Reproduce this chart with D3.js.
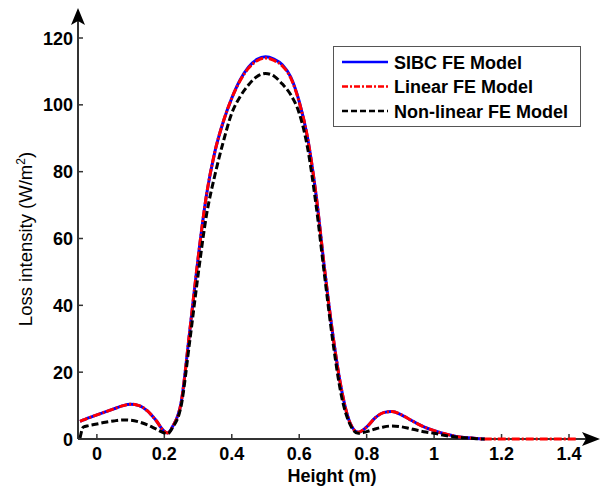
<!DOCTYPE html>
<html>
<head>
<meta charset="utf-8">
<script src="https://cdn.jsdelivr.net/npm/d3@7"></script>
<style>
  body { margin: 0; background: #fff; }
  text { font-family: "Liberation Sans", Arial, sans-serif; }
</style>
</head>
<body>
<svg id="chart" width="602" height="488"></svg>
<script>
const heights = [-0.05, -0.04, -0.025, 0, 0.025, 0.05, 0.075, 0.1, 0.125, 0.15, 0.175, 0.2, 0.21, 0.225,
  0.25, 0.275, 0.3, 0.325, 0.35, 0.375, 0.4, 0.425, 0.45, 0.475, 0.5, 0.525, 0.55, 0.575, 0.6,
  0.625, 0.65, 0.675, 0.7, 0.725, 0.75, 0.775, 0.8, 0.825, 0.85, 0.875, 0.9, 0.925, 0.95, 0.975,
  1.0, 1.025, 1.05, 1.075, 1.1, 1.125, 1.15, 1.25, 1.35, 1.42];

// Loss intensity (W/m^2)
const sibc = [5.3, 5.7, 6.3, 7.2, 8.1, 9.0, 9.9, 10.4, 10.0, 8.4, 5.6, 2.3, 1.8, 3.8,
  11, 32, 54, 73, 86, 95, 102, 107.5, 111.3, 113.6, 114.4, 113.7, 112, 108.3, 101,
  90, 73, 51, 31, 15, 5, 2, 3.6, 6.3, 7.9, 8.2, 7.4, 6.0, 4.6, 3.4,
  2.5, 1.7, 1.1, 0.6, 0.35, 0.15, 0, null, null, null];

const linear = [5.3, 5.7, 6.3, 7.2, 8.1, 9.0, 9.9, 10.4, 10.0, 8.4, 5.6, 2.3, 1.8, 3.8,
  11, 32, 54, 73, 86, 95, 102, 107.3, 111, 113.2, 114, 113.3, 111.6, 108, 100.8,
  90, 73, 51, 31, 15, 5, 2, 3.6, 6.3, 7.9, 8.2, 7.4, 6.0, 4.6, 3.4,
  2.5, 1.7, 1.1, 0.6, 0.35, 0.15, 0, 0, 0, 0];

const nonlinear = [0.3, 3.6, 4.0, 4.5, 5.0, 5.4, 5.7, 5.6, 5.1, 4.2, 3.0, 1.8, 1.6, 3.5,
  10, 29, 49, 67, 79, 89, 97.5, 102.5, 106, 108.5, 109.4, 108.6, 106.2, 103, 97.5,
  87, 70, 49, 29, 13, 4.5, 1.7, 2.2, 3.0, 3.6, 3.9, 3.7, 3.2, 2.6, 2.1,
  1.7, 1.2, 0.8, 0.5, 0.3, 0.1, 0, null, null, null];

const seriesNames = ["SIBC FE Model", "Linear FE Model", "Non-linear FE Model"];
const xTicks = [0, 0.2, 0.4, 0.6, 0.8, 1, 1.2, 1.4];
const yTicks = [0, 20, 40, 60, 80, 100, 120];

const svg = d3.select("#chart");

const x = d3.scaleLinear().domain([-0.056, 1.4]).range([78, 569]);
const y = d3.scaleLinear().domain([0, 120]).range([439, 38]);

const axisColor = "#333";

// x axis line + arrow
svg.append("line")
  .attr("x1", 78).attr("x2", 588)
  .attr("y1", y(0)).attr("y2", y(0))
  .attr("stroke", axisColor).attr("stroke-width", 2);
svg.append("path")
  .attr("d", `M600,${y(0)} L582,${y(0) - 7} L586,${y(0)} L582,${y(0) + 7} Z`)
  .attr("fill", "#000");

// y axis line + arrow
svg.append("line")
  .attr("x1", 78).attr("x2", 78)
  .attr("y1", y(0)).attr("y2", 20)
  .attr("stroke", axisColor).attr("stroke-width", 2);
svg.append("path")
  .attr("d", "M78,8 L71,25 L78,21 L85,25 Z")
  .attr("fill", "#000");

// ticks (pointing inward)
const xAxis = svg.append("g");
xAxis.selectAll("line").data(xTicks).enter().append("line")
  .attr("x1", d => x(d)).attr("x2", d => x(d))
  .attr("y1", y(0)).attr("y2", y(0) - 5)
  .attr("stroke", axisColor).attr("stroke-width", 1.5);
xAxis.selectAll("text").data(xTicks).enter().append("text")
  .attr("x", d => x(d)).attr("y", 460)
  .attr("text-anchor", "middle")
  .style("font-size", "18px").style("font-weight", "bold")
  .text(d => d3.format("~g")(d));

const yAxis = svg.append("g");
yAxis.selectAll("line").data(yTicks).enter().append("line")
  .attr("x1", 78).attr("x2", 83)
  .attr("y1", d => y(d)).attr("y2", d => y(d))
  .attr("stroke", axisColor).attr("stroke-width", 1.5);
yAxis.selectAll("text").data(yTicks).enter().append("text")
  .attr("x", 73).attr("y", d => y(d) + 6.5)
  .attr("text-anchor", "end")
  .style("font-size", "18px").style("font-weight", "bold")
  .text(d => d);

// axis titles
svg.append("text")
  .attr("x", 332).attr("y", 481.5)
  .attr("text-anchor", "middle")
  .style("font-size", "18px").style("font-weight", "bold")
  .text("Height (m)");

const ylab = svg.append("text")
  .attr("transform", "translate(32,239) rotate(-90)")
  .attr("text-anchor", "middle")
  .style("font-size", "18.5px");
ylab.append("tspan").text("Loss intensity (W/m");
ylab.append("tspan").attr("dy", -7).style("font-size", "12px").text("2");
ylab.append("tspan").attr("dy", 7).text(")");

// curves
const rows = heights.map((h, i) => ({ h: h, s: sibc[i], l: linear[i], n: nonlinear[i] }));

function makeLine(key) {
  return d3.line()
    .defined(d => d[key] != null)
    .x(d => x(d.h))
    .y(d => y(d[key]))
    .curve(d3.curveMonotoneX);
}

svg.append("path").datum(rows)
  .attr("d", makeLine("s"))
  .attr("fill", "none").attr("stroke", "#0000ff").attr("stroke-width", 3);

svg.append("path").datum(rows)
  .attr("d", makeLine("l"))
  .attr("fill", "none").attr("stroke", "#ff0000").attr("stroke-width", 3)
  .attr("stroke-dasharray", "8,2,2,2");

svg.append("path").datum(rows)
  .attr("d", makeLine("n"))
  .attr("fill", "none").attr("stroke", "#000").attr("stroke-width", 3)
  .attr("stroke-dasharray", "7,3");

// legend
const legend = svg.append("g");
legend.append("rect")
  .attr("x", 333.5).attr("y", 46.5)
  .attr("width", 247).attr("height", 80)
  .attr("fill", "#fff").attr("stroke", "#555").attr("stroke-width", 1);

const legendStyles = [
  { color: "#0000ff", dash: null },
  { color: "#ff0000", dash: "6,2,2,2" },
  { color: "#000", dash: "6,3" }
];

seriesNames.forEach((name, i) => {
  const ly = 62 + i * 24.5;
  legend.append("line")
    .attr("x1", 342).attr("x2", 388)
    .attr("y1", ly).attr("y2", ly)
    .attr("stroke", legendStyles[i].color)
    .attr("stroke-width", 2.5)
    .attr("stroke-dasharray", legendStyles[i].dash);
  legend.append("text")
    .attr("x", 394).attr("y", ly + 6.5)
    .style("font-size", "18px").style("font-weight", "bold")
    .text(name);
});
</script>
</body>
</html>
